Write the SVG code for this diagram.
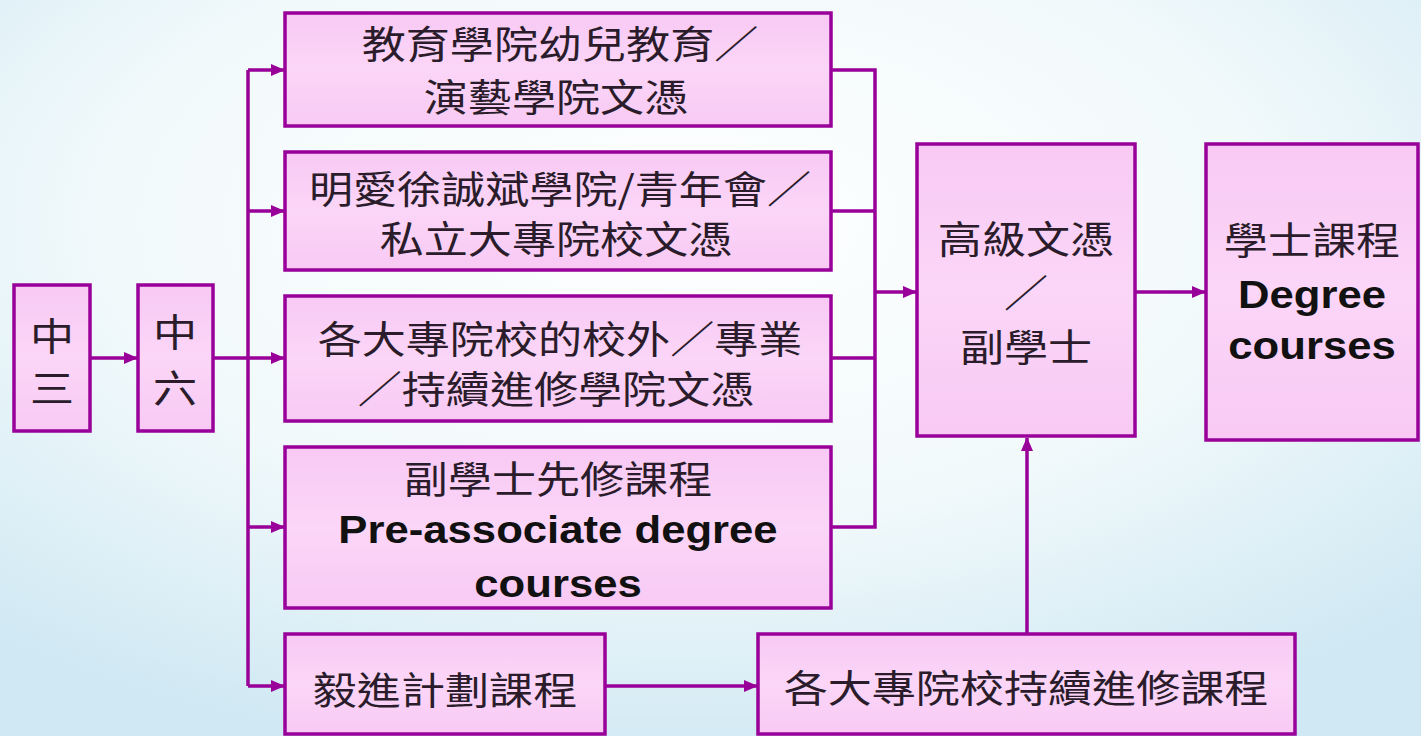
<svg xmlns="http://www.w3.org/2000/svg" width="1421" height="736" viewBox="0 0 1421 736">
<defs>
<radialGradient id="bg" cx="0.48" cy="0.3" r="0.75">
<stop offset="0" stop-color="#ffffff"/>
<stop offset="0.55" stop-color="#f1f9fb"/>
<stop offset="1" stop-color="#cfe8f3"/>
</radialGradient>
<linearGradient id="bx" x1="0" y1="0" x2="0" y2="1">
<stop offset="0" stop-color="#f8c9f4"/>
<stop offset="0.5" stop-color="#fbd6f8"/>
<stop offset="1" stop-color="#f8c9f4"/>
</linearGradient>
<marker id="ah" markerUnits="userSpaceOnUse" markerWidth="14" markerHeight="12" refX="13" refY="6" orient="auto">
<path d="M0,0 L14,6 L0,12 Z" fill="#990099"/>
</marker>
<style>
.box{fill:url(#bx);stroke:#990099;stroke-width:3.5}
.ln{fill:none;stroke:#990099;stroke-width:3.5}
.ar{fill:none;stroke:#990099;stroke-width:3.5;marker-end:url(#ah)}
.zh{font-family:"Noto Sans CJK TC","Noto Sans CJK SC",sans-serif;font-size:38px;fill:#2a1c2a;text-anchor:middle}
.en{font-family:"Liberation Sans",Arial,sans-serif;font-weight:bold;font-size:39px;fill:#111;text-anchor:middle}
</style>
</defs>
<rect x="0" y="0" width="1421" height="736" fill="url(#bg)"/>

<g id="connectors">
<path class="ar" d="M90,358 H137"/>
<path class="ln" d="M213,358 H248"/>
<path class="ln" d="M248,70 V686"/>
<path class="ar" d="M248,70 H284"/>
<path class="ar" d="M248,211 H284"/>
<path class="ar" d="M248,358 H284"/>
<path class="ar" d="M248,527 H284"/>
<path class="ar" d="M248,686 H284"/>
<path class="ln" d="M831,70 H875 V527 H831"/>
<path class="ln" d="M831,211 H875"/>
<path class="ln" d="M831,358 H875"/>
<path class="ar" d="M875,292 H916"/>
<path class="ar" d="M1135,292 H1205"/>
<path class="ar" d="M605,686 H757"/>
<path class="ar" d="M1027,634 V438"/>
</g>

<g id="n-s3">
<rect class="box" x="14" y="285" width="76" height="146"/>
<text class="zh" transform="translate(52,350) scale(1.16,1)">中</text>
<text class="zh" transform="translate(52,402) scale(1.16,1)">三</text>
</g>

<g id="n-s6">
<rect class="box" x="138" y="285" width="75" height="146"/>
<text class="zh" transform="translate(175,346) scale(1.16,1)">中</text>
<text class="zh" transform="translate(175,402) scale(1.16,1)">六</text>
</g>

<g id="n-edu">
<rect class="box" x="285" y="13" width="546" height="113"/>
<text class="zh" transform="translate(560,58) scale(1.16,1)">教育學院幼兒教育／</text>
<text class="zh" transform="translate(556,111) scale(1.16,1)">演藝學院文憑</text>
</g>

<g id="n-caritas">
<rect class="box" x="285" y="152" width="546" height="118"/>
<text class="zh" transform="translate(560,203) scale(1.16,1)">明愛徐誠斌學院/青年會／</text>
<text class="zh" transform="translate(556,253) scale(1.16,1)">私立大專院校文憑</text>
</g>

<g id="n-extra">
<rect class="box" x="285" y="296" width="546" height="125"/>
<text class="zh" transform="translate(560,353) scale(1.16,1)">各大專院校的校外／專業</text>
<text class="zh" transform="translate(556,403) scale(1.16,1)">／持續進修學院文憑</text>
</g>

<g id="n-pread">
<rect class="box" x="285" y="447" width="546" height="161"/>
<text class="zh" transform="translate(558,493) scale(1.16,1)">副學士先修課程</text>
<text class="en" transform="translate(558,543) scale(1.12,1)">Pre-associate degree</text>
<text class="en" transform="translate(558,597) scale(1.12,1)">courses</text>
</g>

<g id="n-yijin">
<rect class="box" x="285" y="634" width="320" height="100"/>
<text class="zh" transform="translate(445,704) scale(1.16,1)">毅進計劃課程</text>
</g>

<g id="n-cont">
<rect class="box" x="758" y="634" width="537" height="100"/>
<text class="zh" transform="translate(1026,702) scale(1.16,1)">各大專院校持續進修課程</text>
</g>

<g id="n-hd">
<rect class="box" x="917" y="144" width="218" height="292"/>
<text class="zh" transform="translate(1026,253) scale(1.16,1)">高級文憑</text>
<text class="zh" transform="translate(1026,307) scale(1.16,1)">／</text>
<text class="zh" transform="translate(1026,361) scale(1.16,1)">副學士</text>
</g>

<g id="n-degree">
<rect class="box" x="1206" y="144" width="212" height="296"/>
<text class="zh" transform="translate(1312,254) scale(1.16,1)">學士課程</text>
<text class="en" transform="translate(1312,308) scale(1.12,1)">Degree</text>
<text class="en" transform="translate(1312,359) scale(1.12,1)">courses</text>
</g>
</svg>
